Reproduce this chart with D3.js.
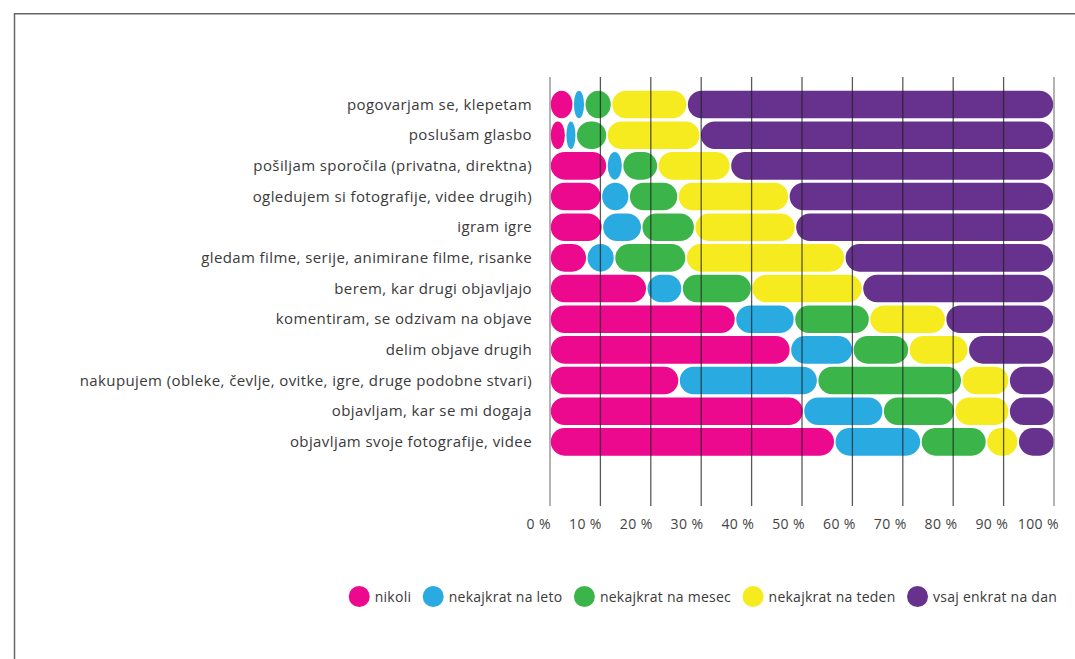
<!DOCTYPE html>
<html>
<head>
<meta charset="utf-8">
<script src="https://cdn.jsdelivr.net/npm/d3@7"></script>
<style>
  body { margin: 0; background: #fff; }
  svg text { font-family: "Open Sans", sans-serif; }
</style>
</head>
<body>
<script>
// categories and answers (percent of respondents)
var categories = [
  "pogovarjam se, klepetam",
  "poslušam glasbo",
  "pošiljam sporočila (privatna, direktna)",
  "ogledujem si fotografije, videe drugih)",
  "igram igre",
  "gledam filme, serije, animirane filme, risanke",
  "berem, kar drugi objavljajo",
  "komentiram, se odzivam na objave",
  "delim objave drugih",
  "nakupujem (obleke, čevlje, ovitke, igre, druge podobne stvari)",
  "objavljam, kar se mi dogaja",
  "objavljam svoje fotografije, videe"
];
var seriesNames = ["nikoli", "nekajkrat na leto", "nekajkrat na mesec", "nekajkrat na teden", "vsaj enkrat na dan"];
var nikoli = [4.6, 3.1, 11.3, 10.2, 10.4, 7.3, 19.2, 36.8, 47.7, 25.6, 50.3, 56.5];
var naLeto = [2.3, 2.1, 3.1, 5.5, 7.8, 5.5, 7.0, 11.7, 12.4, 27.5, 15.8, 17.1];
var naMesec = [5.3, 6.1, 7.0, 9.7, 10.5, 14.2, 13.8, 14.9, 11.1, 28.6, 14.2, 13.0];
var naTeden = [15.0, 18.5, 14.4, 22.0, 20.0, 31.5, 22.0, 15.1, 11.8, 9.4, 10.8, 6.3];
var naDan = [72.8, 70.2, 64.2, 52.6, 51.3, 41.5, 38.0, 21.5, 17.0, 9.0, 9.0, 7.2];
var tickValues = [0, 10, 20, 30, 40, 50, 60, 70, 80, 90, 100];

var colors = ["#ec098d", "#29abe2", "#3bb54a", "#f5eb1e", "#67328d"];

const w = 1075,
      h = 659;

var rows = categories.map((c, i) => ({
  cat: c,
  "nikoli": nikoli[i],
  "nekajkrat na leto": naLeto[i],
  "nekajkrat na mesec": naMesec[i],
  "nekajkrat na teden": naTeden[i],
  "vsaj enkrat na dan": naDan[i]
}));

const xScale = d3.scaleLinear().domain([0, 100]).range([550, 1054]);
const yScale = d3.scaleBand().domain(categories).range([89.2, 457.2])
                 .paddingInner(0.1).paddingOuter(0.05);

const svg = d3.select("body").append("svg")
              .attr("width", w)
              .attr("height", h);

// frame
svg.append("path")
   .attr("d", "M14.5," + h + "V13.7H" + w)
   .attr("fill", "none")
   .attr("stroke", "#666")
   .attr("stroke-width", 1.5);

var stacked = d3.stack().keys(seriesNames)(rows);
var bh = yScale.bandwidth();

svg.append("g").selectAll("g")
   .data(stacked)
   .enter().append("g")
   .attr("fill", (d, i) => colors[i])
   .selectAll("rect")
   .data(d => d)
   .enter().append("rect")
   .attr("x", d => xScale(d[0]) + 0.75)
   .attr("y", d => yScale(d.data.cat))
   .attr("width", d => Math.max(0, xScale(d[1]) - xScale(d[0]) - 1.5))
   .attr("height", bh)
   .attr("rx", d => Math.min(bh / 2, (xScale(d[1]) - xScale(d[0]) - 1.5) / 2))
   .attr("ry", bh / 2);

// gridlines on top of bars
svg.append("g").selectAll("line")
   .data(tickValues)
   .enter().append("line")
   .attr("x1", d => xScale(d))
   .attr("x2", d => xScale(d))
   .attr("y1", 77)
   .attr("y2", 506)
   .attr("stroke", (d, i) => (i == 0 || i == tickValues.length - 1) ? "#8a8a8a" : "#222")
   .attr("stroke-opacity", (d, i) => (i == 0 || i == tickValues.length - 1) ? 1 : 0.75)
   .attr("stroke-width", 1.3);

// category labels
svg.append("g").selectAll("text")
   .data(categories)
   .enter().append("text")
   .attr("x", 532)
   .attr("y", d => yScale(d) + bh / 2 + 5)
   .attr("text-anchor", "end")
   .attr("font-size", 15)
   .attr("letter-spacing", 0.4)
   .attr("fill", "#3a3a3a")
   .text(d => d);

// x axis labels
const xAxis = d3.axisBottom(xScale)
                .tickValues(tickValues)
                .tickFormat(d => d + " %")
                .tickSize(0);
var ax = svg.append("g")
   .attr("transform", "translate(0,529)")
   .call(xAxis);
ax.select(".domain").remove();
ax.selectAll("text")
  .attr("y", 0)
  .attr("dy", 0)
  .attr("dx", (d, i) => i * 0.4 + 0.5)
  .attr("text-anchor", "end")
  .attr("font-family", "Open Sans, sans-serif")
  .attr("font-size", 14)
  .attr("letter-spacing", 0.4)
  .attr("fill", "#444");

// legend
var legend = svg.append("g");
var items = legend.selectAll("g")
   .data(seriesNames)
   .enter().append("g");
items.append("circle")
   .attr("r", 10.5)
   .attr("fill", (d, i) => colors[i]);
items.append("text")
   .attr("x", 15.5)
   .attr("y", 5)
   .attr("font-size", 14)
   .attr("letter-spacing", 0.25)
   .attr("fill", "#3a3a3a")
   .text(d => d);

var pos = [], cx = 0;
items.each(function(d, i) {
  pos.push(cx);
  var tw = this.querySelector("text").getComputedTextLength();
  cx += 15.5 + tw + 22;
});
var totalEnd = cx - 22;
var start = 1057 - totalEnd;
items.attr("transform", (d, i) => "translate(" + (start + pos[i]) + ",596.5)");
</script>
</body>
</html>
